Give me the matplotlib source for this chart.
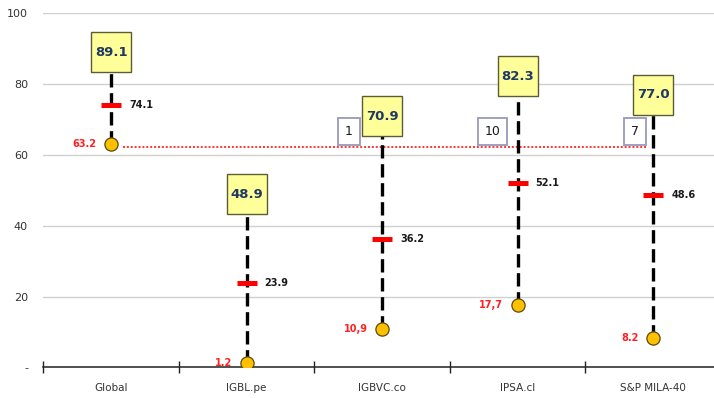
import matplotlib.pyplot as plt

# Index ranges: min / average / max, plus peer counts
categories = ['Global', 'IGBL.pe', 'IGBVC.co', 'IPSA.cl', 'S&P MILA-40']
max_vals = [89.1, 48.9, 70.9, 82.3, 77.0]
avg_vals = [74.1, 23.9, 36.2, 52.1, 48.6]
min_vals = [63.2, 1.2, 10.9, 17.7, 8.2]
min_labels = ['63.2', '1.2', '10,9', '17,7', '8.2']
counts = [None, None, 1, 10, 7]
count_level = 66.7
ref_level = 62.3

x = list(range(len(categories)))

fig = plt.figure(figsize=(7.14, 3.98), dpi=100)
ax = fig.add_axes([0.0607, 0.0771, 0.949, 0.889])

# vertical dashed range lines
for xi, lo, hi in zip(x, min_vals, max_vals):
    ax.plot([xi, xi], [lo, hi], color='black', lw=2.4, dashes=(4, 1.7),
            solid_capstyle='butt', zorder=2)

# reference line across all indexes
ax.plot([0.09, 3.96], [ref_level, ref_level], color='#ff3333', lw=1.4,
        ls=(0, (1, 1)), zorder=1)

# average markers
ax.plot(x, avg_vals, ls='none', marker='_', ms=14.4, mew=3.6, color='red', zorder=3)
for xi, v in zip(x, avg_vals):
    ax.annotate(f'{v:.1f}', (xi, v), xytext=(13, 0), textcoords='offset points',
                ha='left', va='center', fontsize=7, fontweight='bold', color='#1a1a1a')

# minimum markers
ax.plot(x, min_vals, ls='none', marker='o', ms=9.5, mfc='#ffc000', mec='#5a4a10',
        mew=0.9, zorder=4)
for xi, v, lab in zip(x, min_vals, min_labels):
    ax.annotate(lab, (xi, v), xytext=(-10.5, 0), textcoords='offset points',
                ha='right', va='center', fontsize=7, fontweight='bold', color='#ff2020')

# maximum boxes
ax.plot(x, max_vals, ls='none', marker='s', ms=28.8, mfc='#ffff99', mec='#5c5c33',
        mew=1.0, zorder=5)
for xi, v in zip(x, max_vals):
    ax.text(xi, v, f'{v:.1f}', ha='center', va='center', fontsize=9.5,
            fontweight='bold', color='#1f3864', zorder=6)

# peer counts
count_offsets = [0, 0, -24, -18, -13]
for xi, c, off in zip(x, counts, count_offsets):
    if c is None:
        continue
    ax.annotate(str(c), (xi, count_level), xytext=(off, 0), textcoords='offset points',
                ha='center', va='center', fontsize=9, color='#1a1a1a', zorder=6,
                bbox=dict(boxstyle='square,pad=0.55', fc='white', ec='#9999bb', lw=1.3))

ax.set_xlim(-0.5, 4.5)
ax.set_ylim(0, 100)
ax.set_yticks([0, 20, 40, 60, 80, 100])
ax.set_yticklabels(['-', '20', '40', '60', '80', '100'])
ax.tick_params(axis='y', length=0, pad=11, labelsize=8, labelcolor='#333333')
ax.set_xticks([-0.5, 0.5, 1.5, 2.5, 3.5, 4.5])
ax.set_xticklabels([])
ax.set_xticks(x, minor=True)
ax.set_xticklabels(categories, minor=True)
ax.tick_params(axis='x', which='major', direction='inout', length=8, width=1, color='#222222')
ax.tick_params(axis='x', which='minor', length=0, pad=11, labelsize=7.5, labelcolor='#333333')
ax.yaxis.grid(True, color='#d0d0d0', lw=1)
ax.set_axisbelow(True)
for s in ['top', 'right', 'left']:
    ax.spines[s].set_visible(False)
ax.spines['bottom'].set_color('#222222')
ax.spines['bottom'].set_linewidth(1.1)

fig.savefig('out.png', dpi=100)
